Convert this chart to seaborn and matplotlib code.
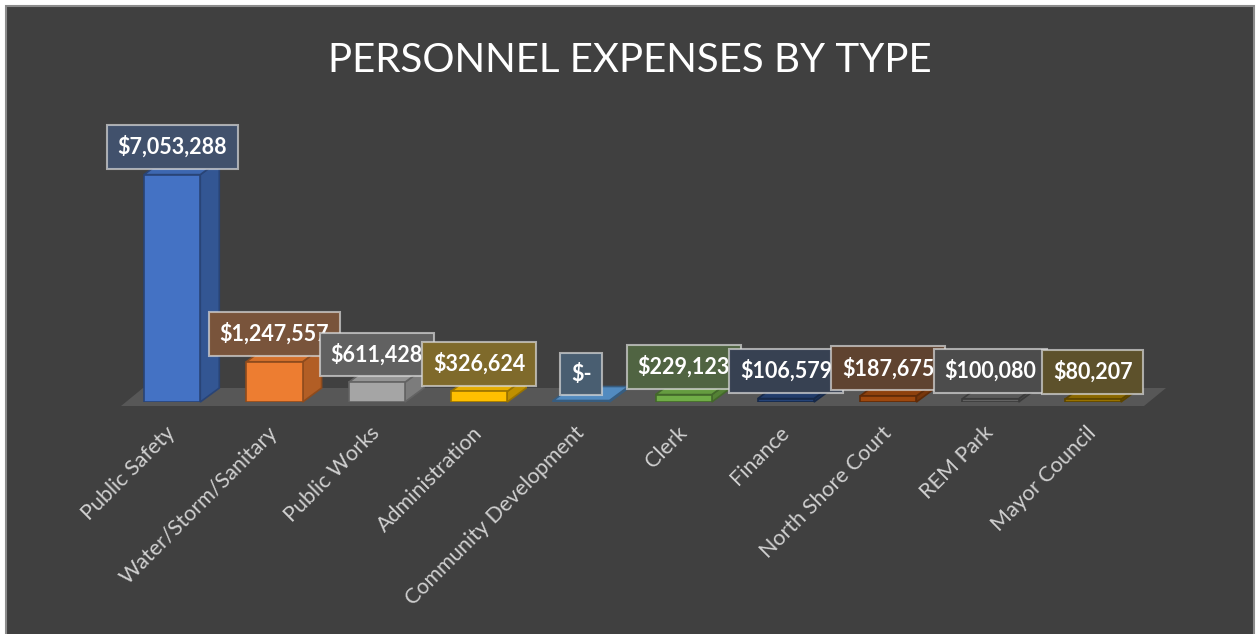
import matplotlib
matplotlib.use("Agg")
import matplotlib.pyplot as plt
import seaborn as sns
import numpy as np
from matplotlib.patches import Polygon, Rectangle
from matplotlib.colors import to_rgb

# --- DATA ---
categories = ["Public Safety", "Water/Storm/Sanitary", "Public Works", "Administration",
              "Community Development", "Clerk", "Finance", "North Shore Court",
              "REM Park", "Mayor Council"]
expenses = [7053288, 1247557, 611428, 326624, 0, 229123, 106579, 187675, 100080, 80207]
bar_colors = ["#4472C4", "#ED7D31", "#A5A5A5", "#FFC000", "#5B9BD5",
              "#70AD47", "#264478", "#9E480E", "#636363", "#997300"]

# --- STYLE ---
BG = "#404040"
DEPTH_PX = (19, 14)      # 3d look of the bars
FLOOR_PX = (22, 18)


def shade(c, f):
    r, g, b = to_rgb(c)
    return (r * f, g * f, b * f)


def blend(c, a, bg=BG):
    c1, c2 = np.array(to_rgb(c)), np.array(to_rgb(bg))
    return tuple(a * c1 + (1 - a) * c2)


def money(v):
    return "$-" if v == 0 else f"${v:,.0f}"


sns.set_theme(style="white")
plt.rcParams["font.family"] = ["Lato", "DejaVu Sans"]

fig = plt.figure(figsize=(12.6, 6.34), dpi=100, facecolor="white")
fig.patches.append(Rectangle((6 / 1260, -0.02), 1248 / 1260, 1 - 6 / 634 + 0.02,
                             transform=fig.transFigure, facecolor=BG,
                             edgecolor="#8c8c8c", lw=1.5, zorder=-10))

ax = fig.add_axes([121 / 1260, 232 / 634, 1023 / 1260, 274 / 634])
ax.set_facecolor("none")

sns.barplot(x=categories, y=expenses, hue=categories, palette=bar_colors,
            legend=False, width=0.55, saturation=1, ax=ax, zorder=3)
ax.set_xlim(-0.5, len(categories) - 0.5)
ax.set_ylim(0, 8.5e6)

# px -> data conversion
bb = ax.get_window_extent()
px_x = (len(categories)) / bb.width
px_y = 8.5e6 / bb.height
ddx, ddy = DEPTH_PX[0] * px_x, DEPTH_PX[1] * px_y
fdx, fdy = FLOOR_PX[0] * px_x, FLOOR_PX[1] * px_y

# floor
lo = -4 * px_y
ax.add_patch(Polygon([(-0.5, lo), (len(categories) - 0.5, lo),
                      (len(categories) - 0.5 + fdx, lo + fdy), (-0.5 + fdx, lo + fdy)],
                     closed=True, facecolor="#575757", edgecolor="none",
                     zorder=1, clip_on=False))

for bar, col, val in zip(ax.patches[:len(categories)], bar_colors, expenses):
    x0, w, h = bar.get_x(), bar.get_width(), bar.get_height()
    h = max(h, 1.5 * px_y)
    bar.set_height(h)
    edge = shade(col, 0.6)
    bar.set_edgecolor(edge)
    bar.set_linewidth(1.2)
    side = [(x0 + w, 0), (x0 + w + ddx, ddy), (x0 + w + ddx, h + ddy), (x0 + w, h)]
    top = [(x0, h), (x0 + w, h), (x0 + w + ddx, h + ddy), (x0 + ddx, h + ddy)]
    ax.add_patch(Polygon(side, closed=True, facecolor=shade(col, 0.75), edgecolor=edge,
                         lw=1.2, zorder=2, clip_on=False))
    ax.add_patch(Polygon(top, closed=True, facecolor=shade(col, 0.9), edgecolor=edge,
                         lw=1.2, zorder=2, clip_on=False))

for i, (val, col) in enumerate(zip(expenses, bar_colors)):
    ax.annotate(money(val), xy=(i, val), xytext=(0, 20), textcoords="offset points",
                ha="center", va="center", fontsize=15.5, fontweight="bold", color="white",
                zorder=5, annotation_clip=False,
                bbox=dict(boxstyle="square,pad=0.5", facecolor=blend(col, 0.33),
                          edgecolor=(0.85, 0.85, 0.85, 0.7), lw=1.5))

ax.set_yticks([])
ax.set_xlabel("")
ax.tick_params(axis="x", length=0, pad=20, labelsize=15.5, labelcolor="#d0d0d0")
for lab in ax.get_xticklabels():
    lab.set_rotation(45)
    lab.set_ha("right")
    lab.set_rotation_mode("anchor")
    lab.set_va("center")
sns.despine(ax=ax, left=True, bottom=True)

fig.text(630 / 1260, 1 - 60 / 634, "PERSONNEL EXPENSES BY TYPE", ha="center", va="center",
         fontsize=29, color="white")

fig.savefig("out.png", dpi=100, facecolor="white")
